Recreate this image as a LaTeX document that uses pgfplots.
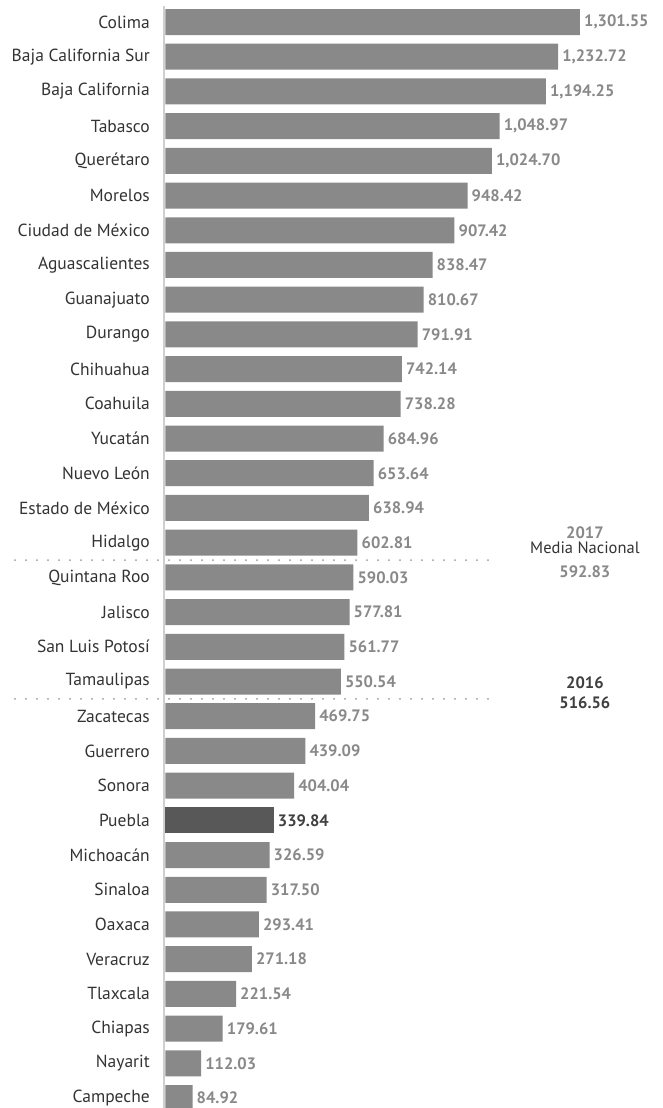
\documentclass[border=0pt]{standalone}
\usepackage{fontspec}
\setmainfont{PT Sans}
\usepackage{pgfplots}
\pgfplotsset{compat=1.18}
\usepackage{pgfplotstable}
\definecolor{barg}{HTML}{898989}
\definecolor{bard}{HTML}{585858}
\definecolor{valg}{HTML}{898989}
\definecolor{vald}{HTML}{3F3F3F}
\definecolor{axg}{HTML}{CFCFCF}
\definecolor{dotg}{HTML}{9A9A9A}
\definecolor{txt}{HTML}{333333}
\pgfplotstableread{
idx val
0 1301.55
1 1232.72
2 1194.25
3 1048.97
4 1024.70
5 948.42
6 907.42
7 838.47
8 810.67
9 791.91
10 742.14
11 738.28
12 684.96
13 653.64
14 638.94
15 602.81
16 590.03
17 577.81
18 561.77
19 550.54
20 469.75
21 439.09
22 404.04
24 326.59
25 317.50
26 293.41
27 271.18
28 221.54
29 179.61
30 112.03
31 84.92
}\datagray
\pgfplotstableread{
idx val
23 339.84
}\datadark
\begin{document}
\begin{tikzpicture}
\path[use as bounding box] (0,0) rectangle (663pt,1108pt);
\begin{axis}[
  at={(164pt,0pt)}, anchor=south west,
  scale only axis, width=499pt, height=1108pt,
  xbar, bar width=26pt, bar shift=0pt,
  xmin=-4.7, xmax=1562.2,
  ymin=-0.634, ymax=31.288, y dir=reverse,
  axis line style={draw=none},
  xtick=\empty,
  ytick={0,...,31},
  yticklabels={Colima,Baja California Sur,Baja California,Tabasco,Querétaro,Morelos,Ciudad de México,Aguascalientes,Guanajuato,Durango,Chihuahua,Coahuila,Yucatán,Nuevo León,Estado de México,Hidalgo,Quintana Roo,Jalisco,San Luis Potosí,Tamaulipas,Zacatecas,Guerrero,Sonora,Puebla,Michoacán,Sinaloa,Oaxaca,Veracruz,Tlaxcala,Chiapas,Nayarit,Campeche},
  major tick length=0pt,
  yticklabel style={font=\fontsize{17.5}{20}\selectfont, text=txt, inner sep=0pt, xshift=-14pt},
  clip=false,
  point meta=x,
  nodes near coords={\pgfmathprintnumber[fixed,fixed zerofill,precision=2,1000 sep={,},assume math mode=true]{\pgfplotspointmeta}},
  every node near coord/.append style={anchor=west, inner sep=0pt, xshift=4pt, font=\fontsize{16.5}{19}\selectfont\bfseries},
]
\draw[axg, line width=1.2pt] (rel axis cs:0,0) -- (rel axis cs:0,0.995);
\addplot[fill=barg, draw=none, nodes near coords style={text=valg}] table[x=val, y=idx] {\datagray};
\addplot[fill=bard, draw=none, nodes near coords style={text=vald}] table[x=val, y=idx] {\datadark};
\draw[dotg, line width=2pt, line cap=round, dash pattern=on 0pt off 11pt] (axis cs:-472.6,15.5) -- (axis cs:1044,15.5);
\draw[dotg, line width=2pt, line cap=round, dash pattern=on 0pt off 11pt] (axis cs:-472.6,19.5) -- (axis cs:1044,19.5);
\node[font=\fontsize{16.5}{19}\selectfont\bfseries, text=valg] at (axis cs:1317,14.72) {2017};
\node[font=\fontsize{16.5}{19}\selectfont, text=txt] at (axis cs:1317,15.15) {Media Nacional};
\node[font=\fontsize{16.5}{19}\selectfont\bfseries, text=valg] at (axis cs:1317,15.85) {592.83};
\node[font=\fontsize{16.5}{19}\selectfont\bfseries, text=vald] at (axis cs:1317,19.03) {2016};
\node[font=\fontsize{16.5}{19}\selectfont\bfseries, text=vald] at (axis cs:1317,19.6) {516.56};
\end{axis}
\end{tikzpicture}
\end{document}
